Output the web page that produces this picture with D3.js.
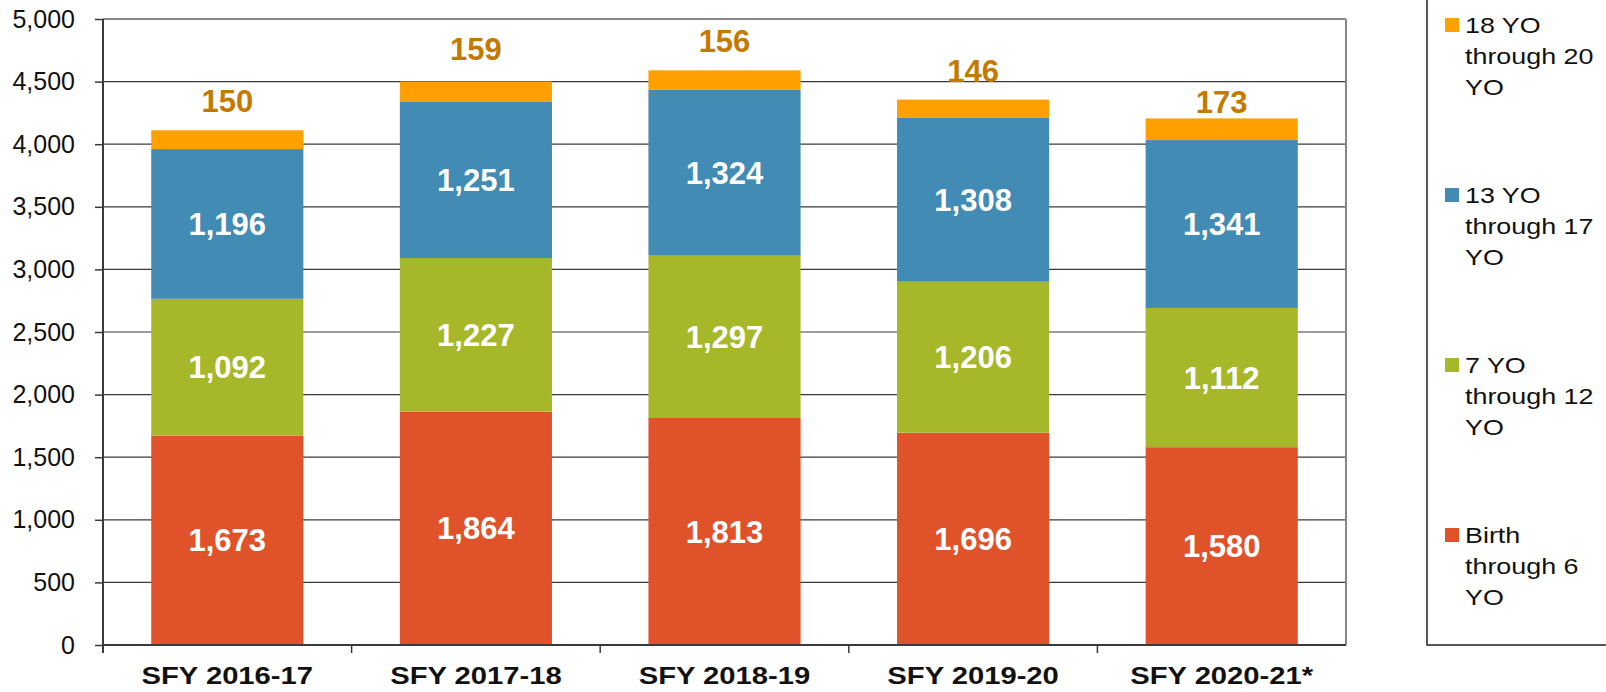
<!DOCTYPE html>
<html>
<head>
<meta charset="utf-8">
<script src="https://cdn.jsdelivr.net/npm/d3@7"></script>
<style>
  body { margin: 0; background: #fff; }
  svg { display: block; font-family: "Liberation Sans", Arial, sans-serif; }
</style>
</head>
<body>
<svg id="chart" width="1606" height="692"></svg>
<script>
// data
const years = ["SFY 2016-17", "SFY 2017-18", "SFY 2018-19", "SFY 2019-20", "SFY 2020-21*"];
const birthTo6 = [1673, 1864, 1813, 1696, 1580];
const age7to12 = [1092, 1227, 1297, 1206, 1112];
const age13to17 = [1196, 1251, 1324, 1308, 1341];
const age18to20 = [150, 159, 156, 146, 173];
const seriesNames = ["Birth through 6 YO", "7 YO through 12 YO", "13 YO through 17 YO", "18 YO through 20 YO"];
const yTicks = [0, 500, 1000, 1500, 2000, 2500, 3000, 3500, 4000, 4500, 5000];

const colors = ["#E0532A", "#A6B82A", "#428BB4", "#FF9F00"];
const legendLines = [["Birth", "through 6", "YO"], ["7 YO", "through 12", "YO"],
                     ["13 YO", "through 17", "YO"], ["18 YO", "through 20", "YO"]];
// the top labels were placed by hand, so their gap above the bar varies
const topLabelGap = [18, 21, 18, 18, 5];

let rows = years.map((y, i) => ({
  year: y, s0: birthTo6[i], s1: age7to12[i], s2: age13to17[i], s3: age18to20[i]
}));
let stacked = d3.stack().keys(["s0", "s1", "s2", "s3"])(rows);

const svg = d3.select("#chart");
const mLeft = 103, mRight = 1346, mTop = 19, mBottom = 645;

let x = d3.scaleBand().domain(years).range([mLeft, mRight]).paddingInner(0.388).paddingOuter(0.194);
let y = d3.scaleLinear().domain([0, 5000]).range([mBottom, mTop]);

// gridlines
svg.append("g").selectAll("line").data(yTicks.filter(d => d > 0 && d < 5000)).join("line")
  .attr("x1", mLeft).attr("x2", mRight)
  .attr("y1", d => y(d)).attr("y2", d => y(d))
  .attr("stroke", "#3a3a3a").attr("stroke-width", 1.2);

// plot frame top/right
svg.append("line").attr("x1", mLeft).attr("x2", mRight).attr("y1", mTop).attr("y2", mTop)
  .attr("stroke", "#888").attr("stroke-width", 2);
svg.append("line").attr("x1", mRight).attr("x2", mRight).attr("y1", mTop).attr("y2", mBottom)
  .attr("stroke", "#888").attr("stroke-width", 2);

// bars
svg.append("g").selectAll("g").data(stacked).join("g")
  .attr("fill", (d, i) => colors[i])
  .selectAll("rect").data(d => d).join("rect")
  .attr("x", d => x(d.data.year))
  .attr("width", x.bandwidth())
  .attr("y", d => y(d[1]))
  .attr("height", d => y(d[0]) - y(d[1]));

// inner labels (first three series)
stacked.slice(0, 3).forEach(s => {
  svg.append("g").selectAll("text").data(s).join("text")
    .attr("x", d => x(d.data.year) + x.bandwidth() / 2)
    .attr("y", d => (y(d[0]) + y(d[1])) / 2)
    .attr("dy", "0.36em")
    .attr("text-anchor", "middle")
    .attr("fill", "#fff")
    .attr("font-weight", "bold")
    .attr("font-size", 31)
    .text(d => d3.format(",")(d[1] - d[0]));
});

// top labels
svg.append("g").selectAll("text").data(stacked[3]).join("text")
  .attr("x", d => x(d.data.year) + x.bandwidth() / 2)
  .attr("y", (d, i) => y(d[1]) - topLabelGap[i])
  .attr("text-anchor", "middle")
  .attr("fill", "#C47A00")
  .attr("font-weight", "bold")
  .attr("font-size", 31)
  .text(d => d3.format(",")(d[1] - d[0]));

// y axis
let yAxis = svg.append("g").attr("transform", `translate(${mLeft},0)`)
  .call(d3.axisLeft(y).tickValues(yTicks).tickFormat(d3.format(",")).tickSize(8).tickPadding(20));
yAxis.select(".domain").remove();
yAxis.selectAll(".tick line").attr("stroke", "#3a3a3a").attr("stroke-width", 1.5);
yAxis.selectAll("text").attr("font-size", 25).attr("fill", "#111").attr("font-family", "Liberation Sans, Arial, sans-serif");
svg.append("line").attr("x1", mLeft).attr("x2", mLeft).attr("y1", mTop).attr("y2", mBottom + 8)
  .attr("stroke", "#3a3a3a").attr("stroke-width", 2);

// x axis
svg.append("line").attr("x1", mLeft).attr("x2", mRight).attr("y1", mBottom).attr("y2", mBottom)
  .attr("stroke", "#3a3a3a").attr("stroke-width", 2);
svg.append("g").selectAll("line").data(years.slice(1)).join("line")
  .attr("x1", d => x(d) - x.step() * x.paddingInner() / 2)
  .attr("x2", d => x(d) - x.step() * x.paddingInner() / 2)
  .attr("y1", mBottom).attr("y2", mBottom + 8)
  .attr("stroke", "#3a3a3a").attr("stroke-width", 1.5);
svg.append("g").selectAll("text").data(years).join("text")
  .attr("transform", d => `translate(${x(d) + x.bandwidth() / 2},684) scale(1.27,1)`)
  .attr("text-anchor", "middle")
  .attr("font-weight", "bold")
  .attr("font-size", 23)
  .attr("fill", "#111")
  .text(d => d);

// legend
svg.append("path").attr("d", `M1427,-2 V645 H1610`)
  .attr("fill", "none").attr("stroke", "#222").attr("stroke-width", 1.5);
let legendOrder = [3, 2, 1, 0];
let lg = svg.append("g").selectAll("g").data(legendOrder).join("g")
  .attr("transform", (d, i) => `translate(1445, ${18 + i * 170})`);
lg.append("rect").attr("width", 14).attr("height", 14).attr("fill", d => colors[d]);
lg.each(function(d) {
  let t = d3.select(this).append("text").attr("transform", "translate(20,0) scale(1.25,1)")
    .attr("font-size", 21.5).attr("fill", "#111");
  legendLines[d].forEach((ln, j) => {
    t.append("tspan").attr("x", 0).attr("y", 15 + j * 31).text(ln);
  });
});
</script>
</body>
</html>
